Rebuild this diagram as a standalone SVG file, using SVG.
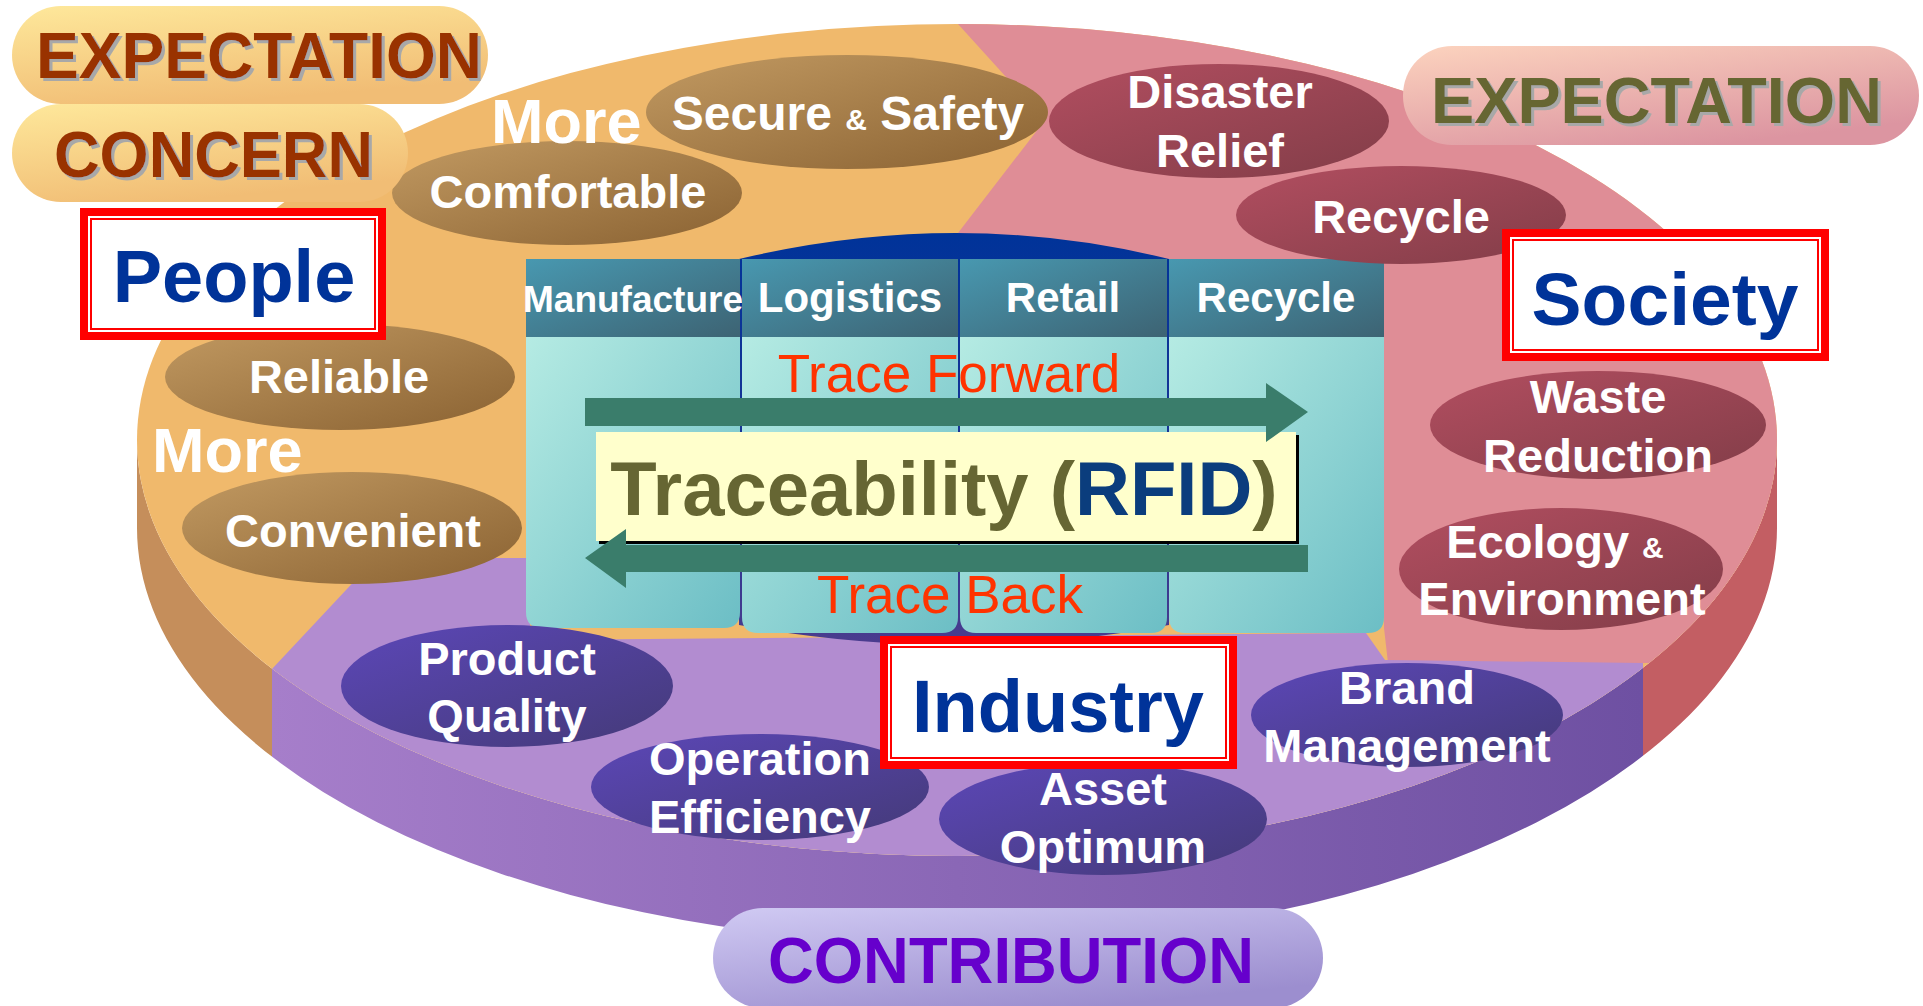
<svg xmlns="http://www.w3.org/2000/svg" width="1923" height="1006" viewBox="0 0 1923 1006">
<defs>
<style>
text{font-family:"Liberation Sans",Arial,sans-serif;font-weight:bold;}
.bt{fill:#fff;font-size:47px;text-anchor:middle;}
.more{fill:#fff;font-size:63px;}
.hd{fill:#fff;font-size:42px;text-anchor:middle;}
.tr{fill:#FF3300;font-size:53px;font-weight:normal;text-anchor:middle;}
.big{font-size:64px;}
.lbl{fill:#003399;font-size:74px;text-anchor:middle;}
.amp{font-size:30px;}
</style>
<linearGradient id="gBrown" x1="0" y1="0" x2="1" y2="1"><stop offset="0" stop-color="#C29A62"/><stop offset="1" stop-color="#8A6232"/></linearGradient>
<linearGradient id="gPink" x1="0" y1="0" x2="1" y2="1"><stop offset="0" stop-color="#B24E60"/><stop offset="1" stop-color="#823D48"/></linearGradient>
<linearGradient id="gPurp" x1="0" y1="0" x2="1" y2="1"><stop offset="0" stop-color="#5C47B8"/><stop offset="1" stop-color="#443A78"/></linearGradient>
<linearGradient id="gYel" x1="0" y1="0" x2="0.4" y2="1"><stop offset="0" stop-color="#FEE89B"/><stop offset="1" stop-color="#F1BD75"/></linearGradient>
<linearGradient id="gRose" x1="0" y1="0" x2="0.6" y2="1"><stop offset="0" stop-color="#FCD3BE"/><stop offset="1" stop-color="#DC95A1"/></linearGradient>
<linearGradient id="gLav" x1="0" y1="0" x2="0.6" y2="1"><stop offset="0" stop-color="#D0CAF3"/><stop offset="1" stop-color="#9C8ECF"/></linearGradient>
<linearGradient id="gSide" x1="272" y1="0" x2="1643" y2="0" gradientUnits="userSpaceOnUse"><stop offset="0" stop-color="#A67ECA"/><stop offset="1" stop-color="#6E50A2"/></linearGradient>
<linearGradient id="gBody" x1="0" y1="0" x2="1" y2="1"><stop offset="0" stop-color="#B5EBE3"/><stop offset="1" stop-color="#6CBEC5"/></linearGradient>
<linearGradient id="gHead" x1="0" y1="0" x2="1" y2="1"><stop offset="0" stop-color="#4898B0"/><stop offset="1" stop-color="#3D6373"/></linearGradient>
<linearGradient id="gDome" x1="0" y1="0" x2="0" y2="1"><stop offset="0" stop-color="#003399"/><stop offset="0.6" stop-color="#1D3594"/><stop offset="1" stop-color="#4B3C8E"/></linearGradient>
<clipPath id="cTop"><ellipse cx="957" cy="440" rx="820" ry="416"/></clipPath>
<clipPath id="cSide"><path d="M137,440 A820,416 0 0 0 1777,440 L1777,528 A820,416 0 0 1 137,528 Z"/></clipPath>
<filter id="sh" x="-5%" y="-5%" width="110%" height="120%"><feDropShadow dx="3" dy="3" stdDeviation="0" flood-color="#A8A8A8" flood-opacity="1"/></filter>
</defs>

<g id="disk">
<g clip-path="url(#cSide)">
<rect x="100" y="400" width="172" height="400" fill="#C58E5B"/>
<rect x="272" y="400" width="1371" height="600" fill="url(#gSide)"/>
<rect x="1643" y="400" width="200" height="400" fill="#C35E63"/>
</g>
<g clip-path="url(#cTop)">
<rect x="100" y="0" width="1720" height="900" fill="#F0B96C"/>
<path d="M958,0 L958,24 L1045,120 L958,233 L958,300 L1384,300 L1384,628 L1388,663 L1830,663 L1830,0 Z" fill="#DF8D96"/>
<path d="M272,669 L376,558 L530,558 L530,640 L1366,633 L1385,660 L1643,663 L1643,900 L272,900 Z" fill="#B28CD0"/>
</g>
</g>

<g id="dome"><path d="M739,259 Q958,207 1169,259 L1169,625 Q958,665 739,625 Z" fill="url(#gDome)"/></g>

<g id="columns">
<g id="col-manufacture">
<path d="M526,337 H740 V612 Q740,628 724,628 H542 Q526,628 526,612 Z" fill="url(#gBody)"/>
<rect x="526" y="259" width="214" height="78" fill="url(#gHead)"/>
<text class="hd" x="633" y="312" style="font-size:37px">Manufacture</text>
</g>
<g id="col-logistics">
<path d="M742,337 H958 V617 Q958,633 942,633 H758 Q742,633 742,617 Z" fill="url(#gBody)"/>
<rect x="742" y="259" width="216" height="78" fill="url(#gHead)"/>
<text class="hd" x="850" y="312">Logistics</text>
</g>
<g id="col-retail">
<path d="M960,337 H1167 V617 Q1167,633 1151,633 H976 Q960,633 960,617 Z" fill="url(#gBody)"/>
<rect x="960" y="259" width="207" height="78" fill="url(#gHead)"/>
<text class="hd" x="1063" y="312">Retail</text>
</g>
<g id="col-recycle">
<path d="M1169,337 H1384 V617 Q1384,633 1368,633 H1185 Q1169,633 1169,617 Z" fill="url(#gBody)"/>
<rect x="1169" y="259" width="215" height="78" fill="url(#gHead)"/>
<text class="hd" x="1276" y="312">Recycle</text>
</g>
</g>

<g id="traceability">
<rect x="599" y="435" width="700" height="109" fill="#000"/>
<rect x="596" y="432" width="700" height="109" fill="#FFFFCC"/>
<text x="944" y="515" text-anchor="middle" style="font-size:76px" fill="#666633">Traceability (<tspan fill="#0B3D7D">RFID</tspan>)</text>
</g>

<g id="connectors">
<path d="M585,398 H1266 V383 L1308,412 L1266,442 V426 H585 Z" fill="#3A7D6B"/>
<path d="M1308,545 H626 V529 L585,558 L626,588 V572 H1308 Z" fill="#3A7D6B"/>
</g>
<text class="tr" x="949" y="392">Trace Forward</text>
<text class="tr" x="950" y="613">Trace Back</text>

<g id="people-bubbles">
<g id="b-secure"><ellipse cx="847" cy="112" rx="201" ry="57" fill="url(#gBrown)"/><text class="bt" x="848" y="130" style="font-size:48px">Secure <tspan class="amp">&amp;</tspan> Safety</text></g>
<g id="b-comfortable"><ellipse cx="567" cy="193" rx="175" ry="52" fill="url(#gBrown)"/><text class="bt" x="568" y="208">Comfortable</text></g>
<text class="more" x="491" y="143">More</text>
<g id="b-reliable"><ellipse cx="340" cy="377" rx="175" ry="53" fill="url(#gBrown)"/><text class="bt" x="339" y="393">Reliable</text></g>
<text class="more" x="152" y="472">More</text>
<g id="b-convenient"><ellipse cx="352" cy="528" rx="170" ry="56" fill="url(#gBrown)"/><text class="bt" x="353" y="547">Convenient</text></g>
</g>

<g id="society-bubbles">
<g id="b-disaster"><ellipse cx="1219" cy="121" rx="170" ry="57" fill="url(#gPink)"/><text class="bt" x="1220" y="108">Disaster</text><text class="bt" x="1220" y="167">Relief</text></g>
<g id="b-recycle"><ellipse cx="1401" cy="215" rx="165" ry="49" fill="url(#gPink)"/><text class="bt" x="1401" y="233">Recycle</text></g>
<g id="b-waste"><ellipse cx="1598" cy="425" rx="168" ry="54" fill="url(#gPink)"/><text class="bt" x="1598" y="413">Waste</text><text class="bt" x="1598" y="472">Reduction</text></g>
<g id="b-ecology"><ellipse cx="1561" cy="569" rx="162" ry="61" fill="url(#gPink)"/><text class="bt" x="1555" y="558">Ecology <tspan class="amp">&amp;</tspan></text><text class="bt" x="1562" y="615">Environment</text></g>
</g>

<g id="industry-bubbles">
<g id="b-product"><ellipse cx="507" cy="686" rx="166" ry="61" fill="url(#gPurp)"/><text class="bt" x="507" y="675">Product</text><text class="bt" x="507" y="732">Quality</text></g>
<g id="b-operation"><ellipse cx="760" cy="787" rx="169" ry="53" fill="url(#gPurp)"/><text class="bt" x="760" y="775">Operation</text><text class="bt" x="760" y="833">Efficiency</text></g>
<g id="b-asset"><ellipse cx="1103" cy="819" rx="164" ry="56" fill="url(#gPurp)"/><text class="bt" x="1103" y="805">Asset</text><text class="bt" x="1103" y="863">Optimum</text></g>
<g id="b-brand"><ellipse cx="1407" cy="715" rx="156" ry="52" fill="url(#gPurp)"/><text class="bt" x="1407" y="704">Brand</text><text class="bt" x="1407" y="762">Management</text></g>
</g>

<g id="pill-expectation-left">
<rect x="12" y="6" width="476" height="98" rx="49" fill="url(#gYel)"/>
<text class="big" x="36" y="78" fill="#993300" filter="url(#sh)" textLength="446" lengthAdjust="spacingAndGlyphs">EXPECTATION</text>
</g>
<g id="pill-concern">
<rect x="12" y="104" width="396" height="98" rx="49" fill="url(#gYel)"/>
<text class="big" x="54" y="177" fill="#993300" filter="url(#sh)" textLength="319" lengthAdjust="spacingAndGlyphs">CONCERN</text>
</g>
<g id="pill-expectation-right">
<rect x="1403" y="46" width="516" height="99" rx="49" fill="url(#gRose)"/>
<text class="big" x="1431" y="123" fill="#666633" filter="url(#sh)" textLength="451" lengthAdjust="spacingAndGlyphs">EXPECTATION</text>
</g>
<g id="pill-contribution">
<rect x="713" y="908" width="610" height="100" rx="50" fill="url(#gLav)"/>
<text class="big" x="768" y="983" fill="#6600CC" textLength="486" lengthAdjust="spacingAndGlyphs">CONTRIBUTION</text>
</g>

<g id="node-people">
<rect x="80" y="208" width="306" height="132" fill="#FF0000"/>
<rect x="88" y="216" width="290" height="116" fill="#fff"/>
<rect x="91" y="219" width="284" height="110" fill="none" stroke="#FF0000" stroke-width="2"/>
<text class="lbl" x="234" y="302">People</text>
</g>
<g id="node-society">
<rect x="1502" y="229" width="327" height="132" fill="#FF0000"/>
<rect x="1510" y="237" width="311" height="116" fill="#fff"/>
<rect x="1513" y="240" width="305" height="110" fill="none" stroke="#FF0000" stroke-width="2"/>
<text class="lbl" x="1665" y="325" style="font-size:75px">Society</text>
</g>
<g id="node-industry">
<rect x="880" y="636" width="357" height="133" fill="#FF0000"/>
<rect x="888" y="644" width="341" height="117" fill="#fff"/>
<rect x="891" y="647" width="335" height="111" fill="none" stroke="#FF0000" stroke-width="2"/>
<text class="lbl" x="1058" y="732">Industry</text>
</g>
</svg>
